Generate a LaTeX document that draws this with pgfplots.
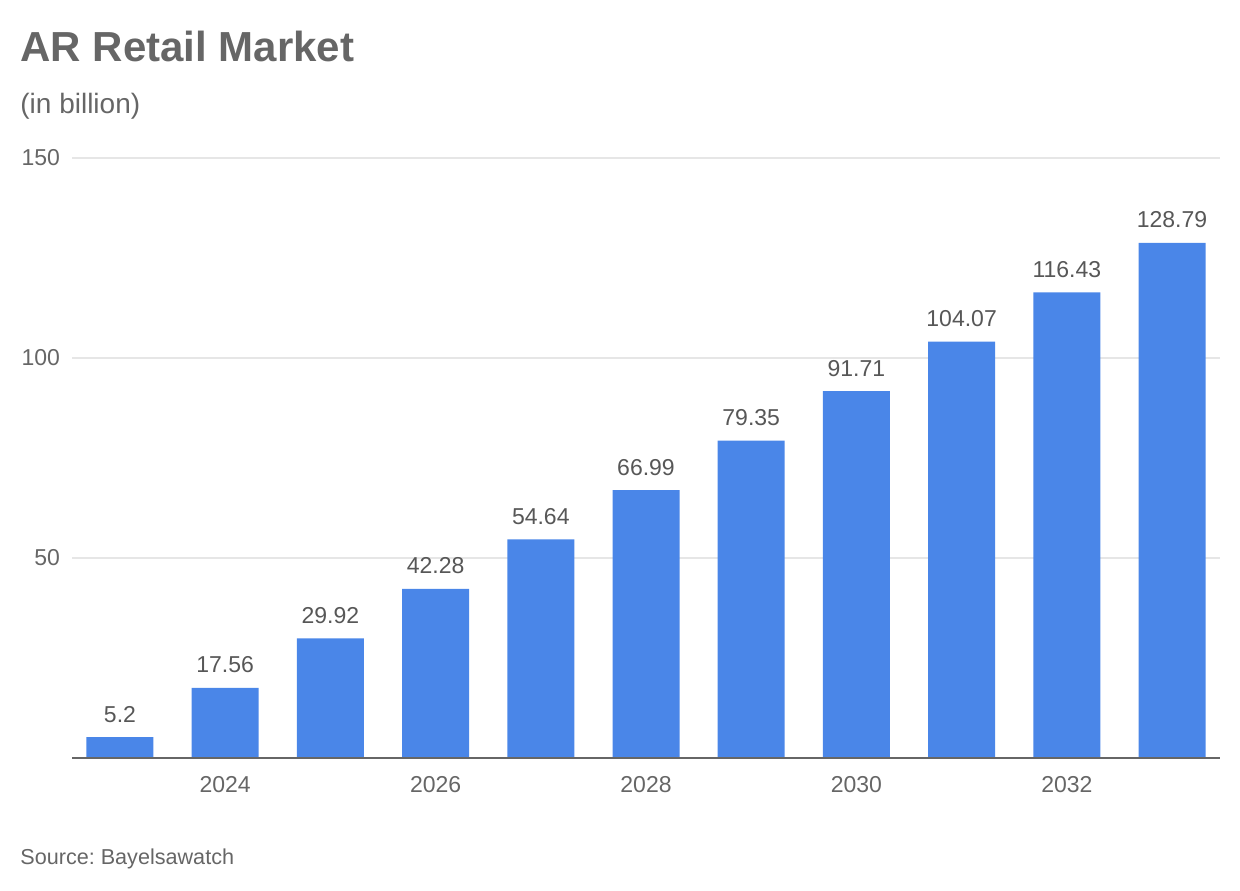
\documentclass[border=0pt]{standalone}
\usepackage{pgfplots}
\pgfplotsset{compat=1.18}
\usepackage{fontspec}
\setmainfont{Liberation Sans}
\frenchspacing
\definecolor{barblue}{HTML}{4A86E8}
\definecolor{txtgray}{HTML}{666666}
\definecolor{gridgray}{HTML}{E6E6E6}
\definecolor{axisgray}{HTML}{666666}
\begin{document}
\begin{tikzpicture}[x=1pt,y=1pt]
\useasboundingbox (0,0) rectangle (620,445);
\node[anchor=base west, inner sep=0pt, text=txtgray, font=\fontsize{21}{24}\selectfont\bfseries] at (10,414) {AR Retail Market};
\node[anchor=base west, inner sep=0pt, text=txtgray, font=\fontsize{14}{16}\selectfont] at (10,388) {(in billion)};
\node[anchor=base west, inner sep=0pt, text=txtgray, font=\fontsize{10.8}{12}\selectfont] at (10,13) {Source: Bayelsawatch};
\begin{axis}[
  at={(36pt,66pt)}, anchor=south west,
  scale only axis, width=574pt, height=300pt,
  xmin=2022.544, xmax=2033.456,
  ymin=0, ymax=150,
  ybar, bar width=33.5pt,
  axis line style={draw=none},
  axis x line*=bottom,
  axis y line*=left,
  major tick length=0pt,
  xtick={2024,2026,2028,2030,2032},
  ytick={50,100,150},
  ymajorgrids, grid style={draw=gridgray, line width=0.6pt},
  ticklabel style={text=txtgray, font=\fontsize{11.5}{13}\selectfont},
  /pgf/number format/assume math mode=true,
  /pgf/number format/1000 sep={},
  xticklabel style={anchor=base, yshift=-17pt},
  yticklabel style={anchor=east, xshift=-2.5pt},
  nodes near coords,
  nodes near coords style={text=txtgray!85!black, font=\fontsize{11.5}{13}\selectfont, anchor=base, yshift=7.5pt, /pgf/number format/assume math mode=true, /pgf/number format/precision=2},
  point meta=explicit symbolic,
  clip=false,
]
\addplot[fill=barblue, draw=none, bar shift=0pt] table[meta=lab] {
x y lab
2023 5.2 5.2
2024 17.56 17.56
2025 29.92 29.92
2026 42.28 42.28
2027 54.64 54.64
2028 66.99 66.99
2029 79.35 79.35
2030 91.71 91.71
2031 104.07 104.07
2032 116.43 116.43
2033 128.79 128.79
};
\draw[axisgray, line width=1pt] (rel axis cs:0,0) -- (rel axis cs:1,0);
\end{axis}
\end{tikzpicture}
\end{document}
